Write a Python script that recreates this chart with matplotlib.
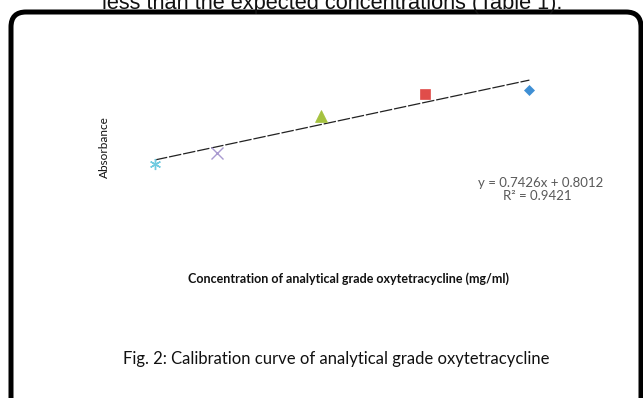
import matplotlib
matplotlib.use("Agg")
import matplotlib.pyplot as plt
from matplotlib.patches import FancyBboxPatch

# ── Data ─────────────────────────────────────────────────────────────────────
conc       = [1.0, 1.6, 2.6, 3.6, 4.6]          # mg/ml
absorbance = [1.41, 1.78, 3.00, 3.74, 3.88]
markers    = [(6, 2, 0), "x", "^", "s", "D"]
colors     = ["#6fcbe0", "#a99ad0", "#a5c23f", "#e04d4a", "#3f8fd4"]
msizes     = [8, 8, 8.5, 7.5, 5.5]
slope, intercept, r2 = 0.7426, 0.8012, 0.9421

# ── Figure ───────────────────────────────────────────────────────────────────
W, H = 643, 398
fig = plt.figure(figsize=(W / 100, H / 100), dpi=100)

def px(x, y):
    return x / W, 1 - y / H

# text of the page above the figure, cut off at the top
fig.text(*px(332, 9), "less than the expected concentrations (Table 1).",
         family="Liberation Sans", fontsize=15.7, ha="center", va="baseline",
         color="#111111")

# rounded frame of the figure box
frame = FancyBboxPatch((0.11, -0.3), 6.30, 4.16,
                       boxstyle="round,pad=0,rounding_size=0.15",
                       transform=fig.dpi_scale_trans,
                       fc="none", ec="black", lw=3.6)
fig.add_artist(frame)

# plot area
left, right, top, bottom = 140, 545, 60, 175
ax = fig.add_axes([left / W, 1 - bottom / H, (right - left) / W, (bottom - top) / H])
ax.set_xlim(0.856, 4.75)
ax.set_ylim(1.04, 4.89)
ax.axis("off")

xs = [conc[0], conc[-1]]
ax.plot(xs, [slope * x + intercept for x in xs], color="#222222",
        lw=0.9, ls=(0, (10, 1.5)), zorder=2)

for x, y, m, c, s in zip(conc, absorbance, markers, colors, msizes):
    line_marker = m == "x" or isinstance(m, tuple)
    ax.plot(x, y, marker=m, color=c, ms=s, mew=1.0 if line_marker else 0.5,
            ls="none", zorder=3)

FONT = "Lato"
fig.text(*px(541, 183), f"y = {slope}x + {intercept}", family=FONT,
         fontsize=9.5, color="#595959", ha="center", va="center")
fig.text(*px(537, 196), f"R² = {r2}", family=FONT,
         fontsize=9.5, color="#595959", ha="center", va="center")

fig.text(*px(104, 147), "Absorbance", family=FONT, fontsize=8.5,
         rotation=90, ha="center", va="center", color="#111111")
fig.text(*px(348, 279),
         "Concentration of analytical grade oxytetracycline (mg/ml)",
         family=FONT, fontsize=9.0, fontweight="bold", ha="center",
         va="center", color="#111111")
fig.text(*px(336, 359),
         "Fig. 2: Calibration curve of analytical grade oxytetracycline",
         family=FONT, fontsize=12, ha="center",
         va="center", color="#111111")

fig.savefig("out.png", dpi=100)
